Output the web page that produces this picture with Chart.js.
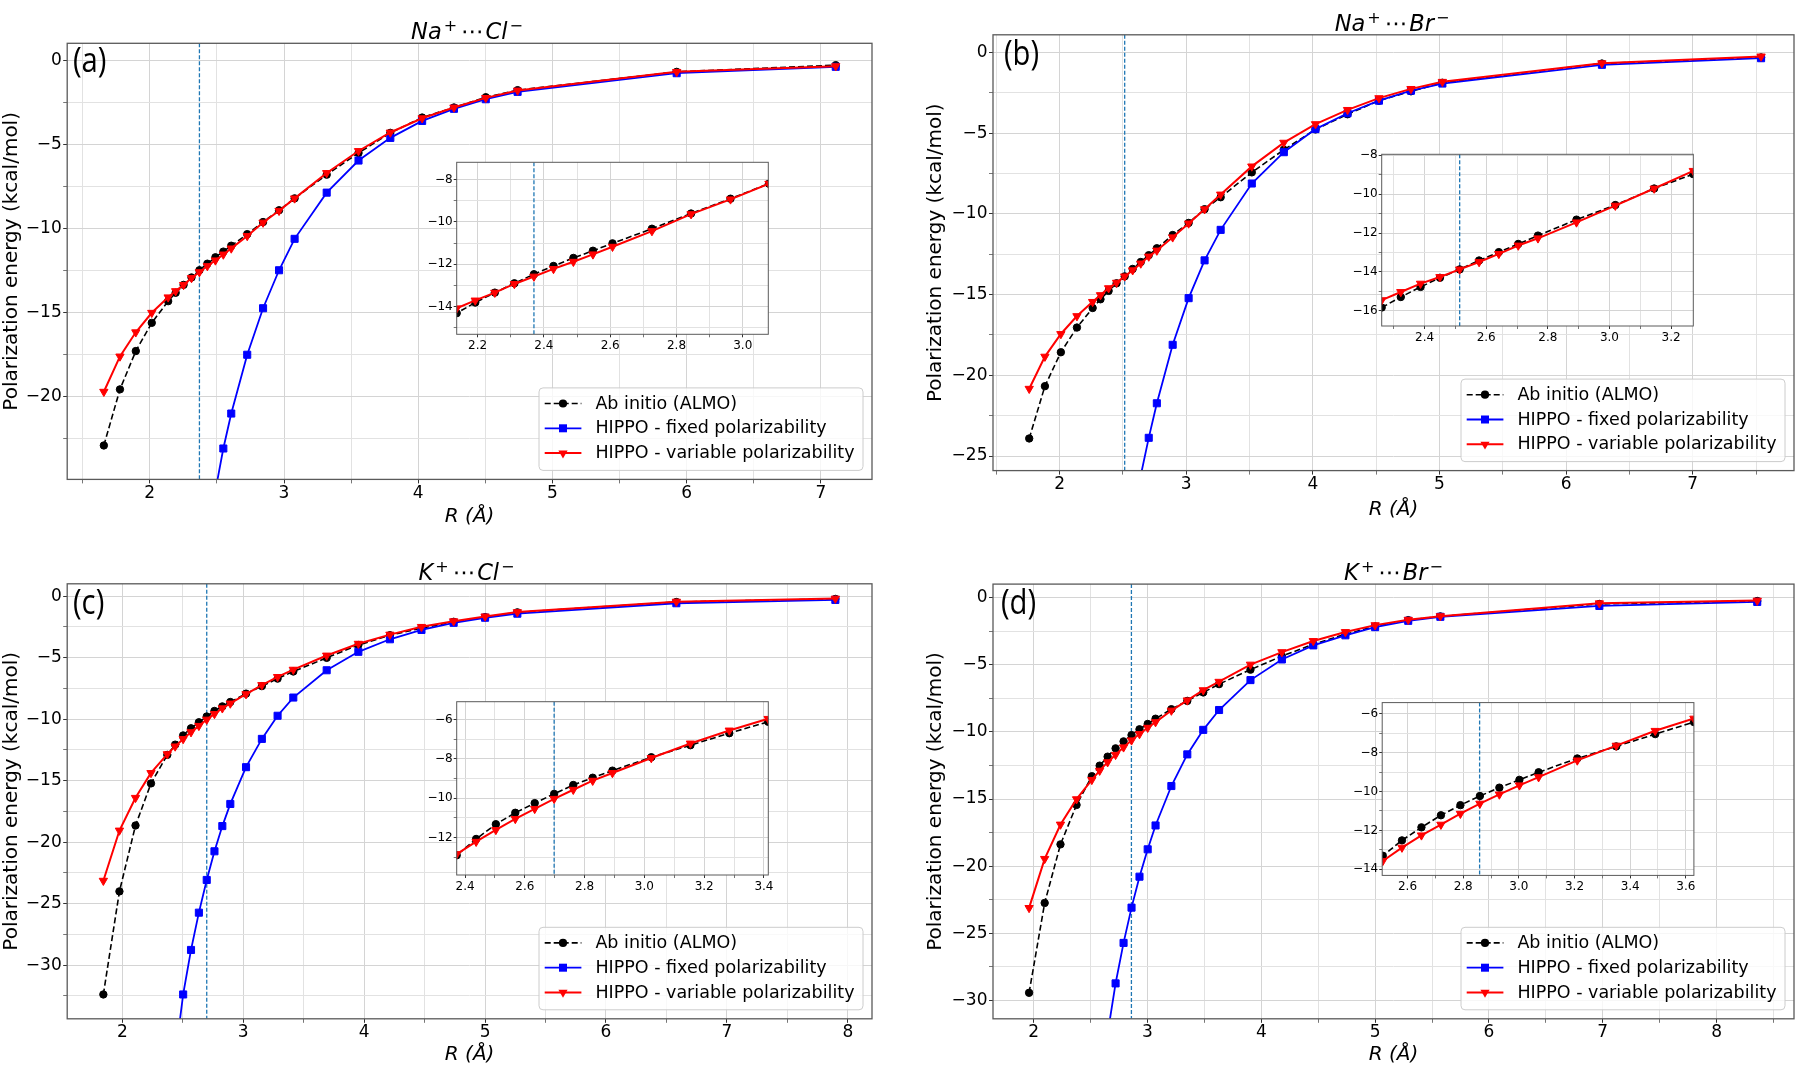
<!DOCTYPE html>
<html>
<head>
<meta charset="utf-8">
<script src="https://cdn.jsdelivr.net/npm/chart.js@4.4.1/dist/chart.umd.min.js"></script>
<style>
html,body{margin:0;padding:0;background:#fff;}
body{width:1800px;height:1068px;position:relative;overflow:hidden;font-family:'DejaVu Sans';}
canvas{position:absolute;}
.ttl{position:absolute;font-family:'DejaVu Sans';font-size:22.5px;line-height:normal;white-space:nowrap;transform:translateX(-50%);color:#000;}
.ttl i{font-style:italic;}
.ttl .sp{font-size:16px;position:relative;top:-8px;line-height:0;margin-left:2px;}
.ttl .dots{margin:0 2px 0 4px;}
.lab{position:absolute;font-family:'Open Sans';font-size:34px;line-height:normal;color:#000;white-space:nowrap;transform:scaleX(0.86);transform-origin:0 0;}
</style>
</head>
<body>
<script>
// ---------------- data ----------------
// (a) Na+ ... Cl-
const R_A     = [1.658, 1.778, 1.896, 2.015, 2.137, 2.193, 2.252, 2.311, 2.370, 2.429, 2.489, 2.548, 2.607, 2.726, 2.844, 2.963, 3.079, 3.318, 3.555, 3.792, 4.029, 4.266, 4.503, 4.740, 5.925, 7.110];
const ALMO_A  = [-22.90, -19.56, -17.28, -15.60, -14.31, -13.81, -13.34, -12.90, -12.47, -12.08, -11.70, -11.36, -11.01, -10.32, -9.60, -8.90, -8.19, -6.78, -5.49, -4.29, -3.38, -2.78, -2.17, -1.75, -0.66, -0.26];
const FIXED_A = [null, null, null, null, null, null, null, null, null, null, -25.6, -23.08, -21.00, -17.50, -14.73, -12.47, -10.60, -7.85, -5.94, -4.59, -3.58, -2.86, -2.29, -1.85, -0.74, -0.36];
const VAR_A   = [-19.70, -17.60, -16.16, -15.00, -14.08, -13.71, -13.34, -12.93, -12.58, -12.22, -11.88, -11.53, -11.17, -10.43, -9.63, -8.93, -8.19, -6.68, -5.37, -4.27, -3.42, -2.78, -2.21, -1.77, -0.66, -0.32];
const RC_A = 2.370;

// (b) Na+ ... Br-
const R_B     = [1.760, 1.884, 2.010, 2.137, 2.261, 2.323, 2.387, 2.450, 2.514, 2.577, 2.641, 2.704, 2.768, 2.893, 3.019, 3.145, 3.272, 3.518, 3.771, 4.021, 4.274, 4.522, 4.775, 5.023, 6.283, 7.540];
const ALMO_B  = [-23.91, -20.67, -18.57, -17.04, -15.83, -15.29, -14.77, -14.30, -13.87, -13.41, -12.98, -12.56, -12.13, -11.31, -10.56, -9.71, -8.97, -7.43, -6.03, -4.77, -3.83, -2.99, -2.41, -1.88, -0.69, -0.31];
const FIXED_B = [null, null, null, null, null, null, null, null, null, null, -26.2, -23.87, -21.73, -18.11, -15.22, -12.88, -10.99, -8.12, -6.18, -4.75, -3.77, -2.99, -2.37, -1.93, -0.77, -0.36];
const VAR_B   = [-20.83, -18.84, -17.44, -16.33, -15.45, -15.03, -14.60, -14.26, -13.87, -13.49, -13.07, -12.64, -12.27, -11.45, -10.59, -9.71, -8.80, -7.06, -5.59, -4.44, -3.56, -2.83, -2.26, -1.82, -0.67, -0.25];
const RC_B = 2.514;

// (c) K+ ... Cl-
const R_C     = [1.843, 1.976, 2.109, 2.237, 2.372, 2.437, 2.503, 2.568, 2.633, 2.698, 2.762, 2.827, 2.893, 3.023, 3.154, 3.284, 3.414, 3.690, 3.952, 4.213, 4.474, 4.740, 5.000, 5.267, 6.582, 7.897];
const ALMO_C  = [-32.38, -24.00, -18.64, -15.22, -12.90, -12.07, -11.32, -10.74, -10.25, -9.78, -9.33, -8.96, -8.60, -7.92, -7.31, -6.70, -6.12, -5.01, -3.97, -3.17, -2.60, -2.08, -1.70, -1.31, -0.47, -0.22];
const FIXED_C = [null, null, null, null, null, -37.5, -32.38, -28.76, -25.73, -23.07, -20.74, -18.69, -16.89, -13.90, -11.60, -9.72, -8.24, -6.02, -4.52, -3.50, -2.74, -2.16, -1.75, -1.42, -0.57, -0.30];
const VAR_C   = [-23.13, -19.05, -16.39, -14.37, -12.84, -12.21, -11.61, -11.05, -10.54, -10.03, -9.57, -9.11, -8.72, -7.96, -7.22, -6.56, -5.97, -4.82, -3.86, -3.12, -2.49, -2.03, -1.64, -1.29, -0.44, -0.19];
const RC_C = 2.698;

// (d) K+ ... Br-
const R_D     = [1.960, 2.097, 2.236, 2.377, 2.511, 2.580, 2.650, 2.720, 2.790, 2.860, 2.930, 3.002, 3.071, 3.210, 3.350, 3.490, 3.629, 3.905, 4.181, 4.457, 4.739, 5.000, 5.291, 5.573, 6.970, 8.357];
const ALMO_D  = [-29.45, -22.75, -18.38, -15.44, -13.30, -12.51, -11.84, -11.22, -10.70, -10.23, -9.80, -9.40, -9.01, -8.30, -7.68, -7.05, -6.43, -5.35, -4.34, -3.46, -2.71, -2.13, -1.66, -1.38, -0.45, -0.23];
const FIXED_D = [null, null, null, null, null, null, -32.5, -28.75, -25.73, -23.10, -20.79, -18.75, -16.97, -14.03, -11.67, -9.84, -8.36, -6.13, -4.59, -3.54, -2.79, -2.18, -1.71, -1.41, -0.60, -0.30];
const VAR_D   = [-23.12, -19.46, -16.90, -15.01, -13.57, -12.88, -12.25, -11.70, -11.14, -10.62, -10.15, -9.68, -9.26, -8.40, -7.64, -6.88, -6.25, -4.97, -4.04, -3.21, -2.54, -2.03, -1.63, -1.36, -0.40, -0.20];
const RC_D = 2.859;

const SERIES_LABELS = ['Ab initio (ALMO)', 'HIPPO - fixed polarizability', 'HIPPO - variable polarizability'];
const X_TITLE = 'R (Å)';
const Y_TITLE = 'Polarization energy (kcal/mol)';

// ---------------- tick values ----------------
const XMAJ_A = [2, 3, 4, 5, 6, 7],      XMIN_A = [1.5, 2.5, 3.5, 4.5, 5.5, 6.5];
const YMAJ_A = [-20, -15, -10, -5, 0],  YMIN_A = [-22.5, -17.5, -12.5, -7.5, -2.5];
const IXMAJ_A = [2.2, 2.4, 2.6, 2.8, 3.0], IXMIN_A = [2.3, 2.5, 2.7, 2.9];
const IYMAJ_A = [-14, -12, -10, -8],       IYMIN_A = [-15, -13, -11, -9];

const XMAJ_B = [2, 3, 4, 5, 6, 7],          XMIN_B = [1.5, 2.5, 3.5, 4.5, 5.5, 6.5, 7.5];
const YMAJ_B = [-25, -20, -15, -10, -5, 0], YMIN_B = [-22.5, -17.5, -12.5, -7.5, -2.5];
const IXMAJ_B = [2.4, 2.6, 2.8, 3.0, 3.2],  IXMIN_B = [2.3, 2.5, 2.7, 2.9, 3.1];
const IYMAJ_B = [-16, -14, -12, -10, -8],   IYMIN_B = [-15, -13, -11, -9];

const XMAJ_C = [2, 3, 4, 5, 6, 7, 8],            XMIN_C = [2.5, 3.5, 4.5, 5.5, 6.5, 7.5];
const YMAJ_C = [-30, -25, -20, -15, -10, -5, 0], YMIN_C = [-32.5, -27.5, -22.5, -17.5, -12.5, -7.5, -2.5];
const IXMAJ_C = [2.4, 2.6, 2.8, 3.0, 3.2, 3.4],  IXMIN_C = [2.5, 2.7, 2.9, 3.1, 3.3];
const IYMAJ_C = [-12, -10, -8, -6],              IYMIN_C = [-13, -11, -9, -7];

const XMAJ_D = [2, 3, 4, 5, 6, 7, 8],            XMIN_D = [2.5, 3.5, 4.5, 5.5, 6.5, 7.5, 8.5];
const YMAJ_D = [-30, -25, -20, -15, -10, -5, 0], YMIN_D = [-27.5, -22.5, -17.5, -12.5, -7.5, -2.5];
const IXMAJ_D = [2.6, 2.8, 3.0, 3.2, 3.4, 3.6],  IXMIN_D = [2.7, 2.9, 3.1, 3.3, 3.5];
const IYMAJ_D = [-14, -12, -10, -8, -6],         IYMIN_D = [-13, -11, -9, -7];

// ---------------- panel assembly (layout kept separate) ----------------
const PANELS = [
  { title: ['Na', 'Cl'], tag: '(a)',
    data: {r: R_A, almo: ALMO_A, fixed: FIXED_A, vari: VAR_A, rc: RC_A},
    ticks: {xMaj: XMAJ_A, xMin: XMIN_A, yMaj: YMAJ_A, yMin: YMIN_A, ixMaj: IXMAJ_A, ixMin: IXMIN_A, iyMaj: IYMAJ_A, iyMin: IYMIN_A},
    geo: {canvas: [0, 0, 900, 540], area: [67.2, 43.3, 872, 479.4], xr: [1.385, 7.38], yr: [-24.92, 1.04], ytPad: 0, xtPad: 11.6,
          inset: [456.7, 162.3, 768.3, 334.3], ixr: [2.137, 3.077], iyr: [-15.31, -7.18],
          title: [467, 39], label: [73, 72.3]} },
  { title: ['Na', 'Br'], tag: '(b)',
    data: {r: R_B, almo: ALMO_B, fixed: FIXED_B, vari: VAR_B, rc: RC_B},
    ticks: {xMaj: XMAJ_B, xMin: XMIN_B, yMaj: YMAJ_B, yMin: YMIN_B, ixMaj: IXMAJ_B, ixMin: IXMIN_B, iyMaj: IYMAJ_B, iyMin: IYMIN_B},
    geo: {canvas: [900, 0, 900, 540], area: [993, 34.8, 1797.5, 470.6], xr: [1.474, 7.80], yr: [-25.9, 1.09], ytPad: 23.5, xtPad: 18.6,
          inset: [1381.7, 154.3, 1693.3, 326.0], ixr: [2.261, 3.272], iyr: [-16.78, -7.95],
          title: [1392, 31], label: [1003.5, 65.3]} },
  { title: ['K', 'Cl'], tag: '(c)',
    data: {r: R_C, almo: ALMO_C, fixed: FIXED_C, vari: VAR_C, rc: RC_C},
    ticks: {xMaj: XMAJ_C, xMin: XMIN_C, yMaj: YMAJ_C, yMin: YMIN_C, ixMaj: IXMAJ_C, ixMin: IXMIN_C, iyMaj: IYMAJ_C, iyMin: IYMIN_C},
    geo: {canvas: [0, 540, 900, 528], area: [67.2, 583.8, 872, 1018.8], xr: [1.544, 8.2], yr: [-34.36, 1.01], ytPad: 0, xtPad: 1.6,
          inset: [456.7, 701.7, 768.3, 875.0], ixr: [2.372, 3.4145], iyr: [-13.9, -5.1],
          title: [466.5, 579.7], label: [73, 614.5]} },
  { title: ['K', 'Br'], tag: '(d)',
    data: {r: R_D, almo: ALMO_D, fixed: FIXED_D, vari: VAR_D, rc: RC_D},
    ticks: {xMaj: XMAJ_D, xMin: XMIN_D, yMaj: YMAJ_D, yMin: YMIN_D, ixMaj: IXMAJ_D, ixMin: IXMIN_D, iyMaj: IYMAJ_D, iyMin: IYMIN_D},
    geo: {canvas: [900, 540, 900, 528], area: [993, 584.1, 1797.5, 1018.8], xr: [1.643, 8.68], yr: [-31.39, 1.03], ytPad: 23.5, xtPad: 1.6,
          inset: [1382.2, 702.6, 1693.9, 875.4], ixr: [2.509, 3.629], iyr: [-14.31, -5.43],
          title: [1393.5, 579.7], label: [1000.5, 614.5]} }
];

// ---------------- helpers ----------------
const FONT = "'DejaVu Sans'";
function isIn(arr, v) { return v != null && arr.some(m => Math.abs(m - v) < 1e-6); }
function fmtInt(v) { return String(Math.round(v)).replace('-', '\u2212'); }
function fmt1(v) { return (Math.round(v * 10) / 10).toFixed(1).replace('-', '\u2212'); }

function linAxis(cfg) {
  const all = cfg.maj.concat(cfg.min)
    .filter(v => v >= cfg.range[0] - 1e-9 && v <= cfg.range[1] + 1e-9)
    .sort((a, b) => a - b);
  return {
    type: 'linear', position: cfg.pos, min: cfg.range[0], max: cfg.range[1], bounds: 'data',
    afterBuildTicks: s => { s.ticks = all.map(v => ({value: v})); },
    afterFit: s => { if (cfg.pos === 'bottom') s.height = cfg.fit; else s.width = cfg.fit; },
    grid: {
      color: c => isIn(cfg.maj, c.tick && c.tick.value) ? '#d4d4d4' : '#e2e2e2',
      lineWidth: 1, drawTicks: true, tickLength: cfg.tickLen, tickWidth: 1,
      tickColor: c => isIn(cfg.maj, c.tick && c.tick.value) ? '#333333' : '#777777'
    },
    border: {display: false},
    ticks: {
      autoSkip: false, maxRotation: 0, minRotation: 0, padding: cfg.pad, color: '#000',
      font: {family: FONT, size: cfg.fontSize},
      callback: v => isIn(cfg.maj, v) ? cfg.fmt(v) : ''
    },
    title: cfg.title ? {
      display: true, text: cfg.title.text, color: '#000',
      font: {family: FONT, size: 20, style: cfg.title.style || 'normal', lineHeight: 1.2},
      padding: cfg.title.padding
    } : {display: false}
  };
}

function makeSets(d, withFixed) {
  const pts = ys => d.r.map((r, i) => ({x: r, y: ys[i]}));
  const base = {fill: false, tension: 0, clip: 0, spanGaps: false, pointBorderWidth: 1, pointHoverRadius: 0};
  const sets = [
    Object.assign({label: SERIES_LABELS[0], data: pts(d.almo), borderColor: '#000000', backgroundColor: '#000000',
      pointBorderColor: '#000000', pointBackgroundColor: '#000000', borderWidth: 1.6, borderDash: [6, 3],
      pointStyle: 'circle', pointRadius: 3.7, pointRotation: 0, order: 2}, base),
    Object.assign({label: SERIES_LABELS[1], data: pts(d.fixed), borderColor: '#0000ff', backgroundColor: '#0000ff',
      pointBorderColor: '#0000ff', pointBackgroundColor: '#0000ff', borderWidth: 1.8, borderDash: [],
      pointStyle: 'rect', pointRadius: 5.0, pointRotation: 0, order: 1}, base),
    Object.assign({label: SERIES_LABELS[2], data: pts(d.vari), borderColor: '#ff0000', backgroundColor: '#ff0000',
      pointBorderColor: '#ff0000', pointBackgroundColor: '#ff0000', borderWidth: 2, borderDash: [],
      pointStyle: 'triangle', pointRadius: 4.8, pointRotation: 180, order: 0}, base)
  ];
  return withFixed ? sets : [sets[0], sets[2]];
}

function legendMarker(ctx, style, x, y, color) {
  ctx.fillStyle = color;
  ctx.beginPath();
  if (style === 'circle') ctx.arc(x, y, 4.1, 0, Math.PI * 2);
  else if (style === 'rect') ctx.rect(x - 4, y - 4, 8, 8);
  else { const r = 5.3; ctx.moveTo(x - r * 0.866, y - r * 0.5); ctx.lineTo(x + r * 0.866, y - r * 0.5); ctx.lineTo(x, y + r); ctx.closePath(); }
  ctx.fill();
}

const deco = {
  id: 'deco',
  beforeDraw(chart, args, o) {
    if (!o.fill) return;
    const a = chart.chartArea, c = chart.ctx;
    c.save(); c.fillStyle = '#ffffff'; c.fillRect(a.left, a.top, a.right - a.left, a.bottom - a.top); c.restore();
  },
  beforeDatasetsDraw(chart, args, o) {
    if (o.vline == null) return;
    const a = chart.chartArea, c = chart.ctx;
    const x = chart.scales.x.getPixelForValue(o.vline);
    c.save();
    c.beginPath(); c.rect(a.left, a.top, a.right - a.left, a.bottom - a.top); c.clip();
    c.strokeStyle = '#1f77b4'; c.lineWidth = 1.3; c.setLineDash([4, 2]);
    c.beginPath(); c.moveTo(x, a.top); c.lineTo(x, a.bottom); c.stroke();
    c.restore();
  },
  afterDraw(chart, args, o) {
    const a = chart.chartArea, c = chart.ctx;
    c.save();
    c.strokeStyle = '#5a5a5a'; c.lineWidth = o.frame;
    c.strokeRect(a.left, a.top, a.right - a.left, a.bottom - a.top);
    if (o.legend) {
      const w = 324, h = 82.5, x0 = a.right - 9 - w, y0 = a.bottom - 9 - h, rr = 4;
      c.beginPath();
      c.moveTo(x0 + rr, y0); c.lineTo(x0 + w - rr, y0); c.quadraticCurveTo(x0 + w, y0, x0 + w, y0 + rr);
      c.lineTo(x0 + w, y0 + h - rr); c.quadraticCurveTo(x0 + w, y0 + h, x0 + w - rr, y0 + h);
      c.lineTo(x0 + rr, y0 + h); c.quadraticCurveTo(x0, y0 + h, x0, y0 + h - rr);
      c.lineTo(x0, y0 + rr); c.quadraticCurveTo(x0, y0, x0 + rr, y0); c.closePath();
      c.fillStyle = 'rgba(255,255,255,0.8)'; c.fill();
      c.strokeStyle = '#cccccc'; c.lineWidth = 1; c.stroke();
      const sets = chart.data.datasets.slice().sort((p, q) => q.order - p.order);
      sets.forEach((ds, i) => {
        const yy = y0 + 15.6 + i * 24.8;
        c.strokeStyle = ds.borderColor; c.lineWidth = ds.borderWidth;
        c.setLineDash(ds.borderDash || []);
        c.beginPath(); c.moveTo(x0 + 5.7, yy); c.lineTo(x0 + 42.4, yy); c.stroke();
        c.setLineDash([]);
        legendMarker(c, ds.pointStyle, x0 + 24, yy, ds.borderColor);
        c.fillStyle = '#000'; c.font = "17.5px " + FONT; c.textBaseline = 'middle'; c.textAlign = 'left';
        c.fillText(ds.label, x0 + 56.4, yy + 0.5);
      });
    }
    c.restore();
  }
};

function mkCanvas(x, y, w, h) {
  const cv = document.createElement('canvas');
  cv.width = w; cv.height = h;
  cv.style.left = x + 'px'; cv.style.top = y + 'px';
  cv.style.width = w + 'px'; cv.style.height = h + 'px';
  document.body.appendChild(cv);
  return cv;
}

function baseOptions() {
  return {responsive: false, maintainAspectRatio: false, animation: false, devicePixelRatio: 1, events: []};
}

function buildMain(p) {
  const g = p.geo, [cx, cy, cw, ch] = g.canvas, [L, T, R, B] = g.area;
  const cv = mkCanvas(cx, cy, cw, ch);
  new Chart(cv, {
    type: 'line',
    data: {datasets: makeSets(p.data, true)},
    options: Object.assign(baseOptions(), {
      layout: {padding: {left: 0, top: T - cy, right: cx + cw - R, bottom: 0}},
      scales: {
        x: linAxis({pos: 'bottom', range: g.xr, maj: p.ticks.xMaj, min: p.ticks.xMin, fit: cy + ch - B,
                    fontSize: 17, tickLen: 4, pad: 0, fmt: fmtInt,
                    title: {text: X_TITLE, style: 'italic', padding: {top: 0, bottom: g.xtPad}}}),
        y: linAxis({pos: 'left', range: g.yr, maj: p.ticks.yMaj, min: p.ticks.yMin, fit: L - cx,
                    fontSize: 17, tickLen: 4, pad: 1.5, fmt: fmtInt,
                    title: {text: Y_TITLE, padding: {top: g.ytPad, bottom: 0}}})
      },
      plugins: {legend: {display: false}, tooltip: {enabled: false}, title: {display: false},
                deco: {vline: p.data.rc, legend: true, fill: false, frame: 1.3}}
    }),
    plugins: [deco]
  });
}

function buildInset(p) {
  const g = p.geo, [L, T, R, B] = g.inset;
  const cx = Math.floor(L - 42), cy = Math.floor(T - 8);
  const cw = Math.ceil(R + 8) - cx, ch = Math.ceil(B + 26) - cy;
  const cv = mkCanvas(cx, cy, cw, ch);
  new Chart(cv, {
    type: 'line',
    data: {datasets: makeSets(p.data, false)},
    options: Object.assign(baseOptions(), {
      layout: {padding: {left: 0, top: T - cy, right: cx + cw - R, bottom: 0}},
      scales: {
        x: linAxis({pos: 'bottom', range: g.ixr, maj: p.ticks.ixMaj, min: p.ticks.ixMin, fit: cy + ch - B,
                    fontSize: 12, tickLen: 3, pad: 1.7, fmt: fmt1}),
        y: linAxis({pos: 'left', range: g.iyr, maj: p.ticks.iyMaj, min: p.ticks.iyMin, fit: L - cx,
                    fontSize: 12, tickLen: 3, pad: 1, fmt: fmtInt})
      },
      plugins: {legend: {display: false}, tooltip: {enabled: false}, title: {display: false},
                deco: {vline: p.data.rc, legend: false, fill: true, frame: 1}}
    }),
    plugins: [deco]
  });
}

function buildText(p) {
  const g = p.geo;
  const t = document.createElement('div');
  t.className = 'ttl';
  t.innerHTML = '<i>' + p.title[0] + '</i><span class="sp">+</span><span class="dots">\u22EF</span><i>' + p.title[1] + '</i><span class="sp">\u2212</span>';
  t.style.left = g.title[0] + 'px';
  t.style.top = (g.title[1] - 0.928 * 22.5) + 'px';
  document.body.appendChild(t);
  const l = document.createElement('div');
  l.className = 'lab';
  l.textContent = p.tag;
  l.style.left = g.label[0] + 'px';
  l.style.top = (g.label[1] - 1.069 * 34) + 'px';
  document.body.appendChild(l);
}

Chart.defaults.font.family = FONT;
PANELS.forEach(buildMain);
PANELS.forEach(buildInset);
PANELS.forEach(buildText);
</script>
</body>
</html>
